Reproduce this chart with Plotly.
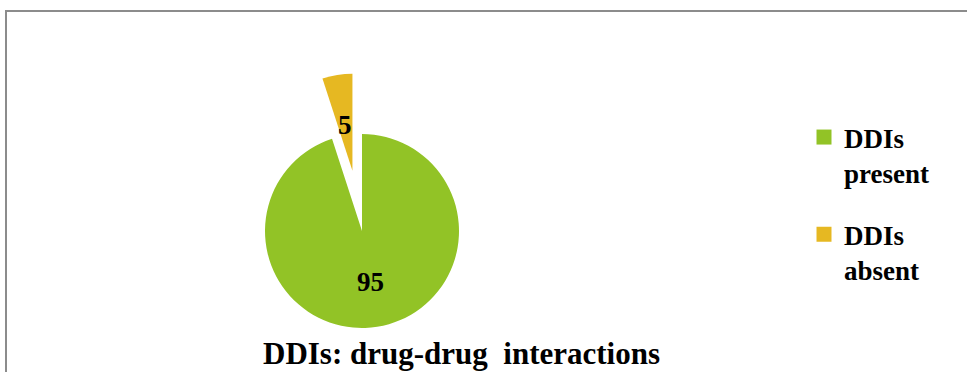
import math
import plotly.graph_objects as go

# ---- data ----
categories = ["DDIs present", "DDIs absent"]
legend_labels = ["DDIs<br>present", "DDIs<br>absent"]
values = [95, 5]
colors = ["#92C326", "#E6B822"]
title_text = "DDIs: drug-drug\u00a0 interactions"

# ---- geometry (pixels) ----
W, H = 967, 372
CX, CY, R = 362, 231, 97       # pie centre and radius
PULL = 0.63                    # exploded-slice offset as a fraction of radius
exploded = [False, True]
label_r = [0.53, 0.48]         # label distance from slice centre, fraction of radius
FONT = "Liberation Serif"
CLEAR = "rgba(0,0,0,0)"

total = sum(values)
mids = []
acc = 0.0
for v in values:
    mids.append((acc + v / 2) / total * 360.0)   # clockwise from 12 o'clock
    acc += v


def domain(cx, cy):
    return dict(x=[(cx - R) / W, (cx + R) / W],
                y=[1 - (cy + R) / H, 1 - (cy - R) / H])


fig = go.Figure()
annotations = []
for i, v in enumerate(values):
    a = math.radians(mids[i])
    d = PULL * R if exploded[i] else 0.0
    cx = CX + d * math.sin(a)
    cy = CY - d * math.cos(a)
    slice_colors = [colors[j] if j == i else CLEAR for j in range(len(values))]
    fig.add_trace(go.Pie(
        labels=categories, values=values, sort=False, direction="clockwise",
        rotation=0, marker=dict(colors=slice_colors, line=dict(width=0)),
        textinfo="none", hoverinfo="skip", showlegend=False,
        domain=domain(cx, cy),
    ))
    lx = cx + label_r[i] * R * math.sin(a)
    ly = cy - label_r[i] * R * math.cos(a)
    annotations.append(dict(
        text=f"<b>{v}</b>", x=lx / W, y=1 - ly / H, xref="paper", yref="paper",
        xanchor="center", yanchor="middle", showarrow=False,
        font=dict(family=FONT, size=27, color="#000000"),
    ))

# legend entries
for i, name in enumerate(legend_labels):
    fig.add_trace(go.Scatter(
        x=[None], y=[None], mode="markers", name=f"<b>{name}</b>",
        legendgroup=f"g{i}",
        marker=dict(symbol="square", size=15, color=colors[i]),
    ))

annotations.append(dict(
    text=f"<b>{title_text}</b>", x=461 / W, y=1 - 353 / H, xref="paper", yref="paper",
    xanchor="center", yanchor="middle", showarrow=False,
    font=dict(family=FONT, size=31, color="#000000"),
))

fig.update_layout(
    width=W, height=H,
    margin=dict(l=0, r=0, t=0, b=0),
    paper_bgcolor="white", plot_bgcolor="white",
    xaxis=dict(visible=False), yaxis=dict(visible=False),
    annotations=annotations,
    shapes=[dict(type="rect", xref="paper", yref="paper",
                 x0=6 / W, y0=1 - 11 / H, x1=1.1, y1=-0.1,
                 line=dict(color="#8c8c8c", width=2), fillcolor=CLEAR)],
    legend=dict(x=804 / W, y=1 - 113 / H, xanchor="left", yanchor="top",
                valign="top", tracegroupgap=24, itemsizing="trace",
                font=dict(family=FONT, size=27, color="#000000"),
                bgcolor=CLEAR),
    showlegend=True,
)

fig.write_html("out.html")
